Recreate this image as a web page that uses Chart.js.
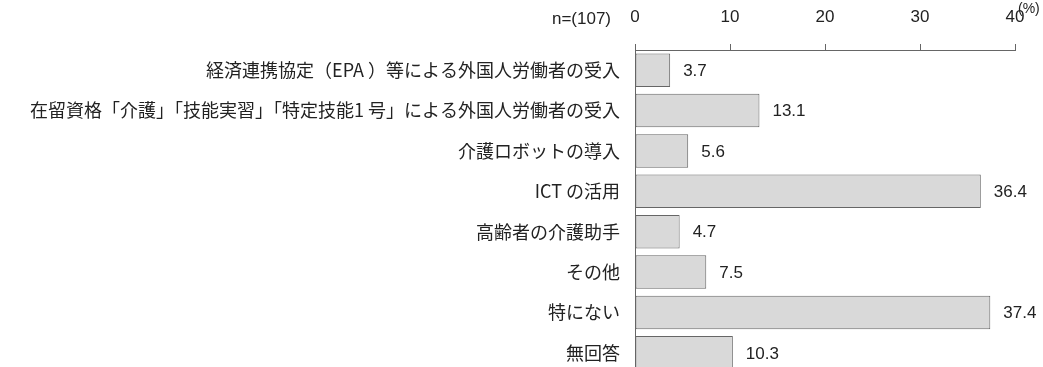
<!DOCTYPE html>
<html>
<head>
<meta charset="utf-8">
<script src="https://cdn.jsdelivr.net/npm/chart.js@4/dist/chart.umd.min.js"></script>
<style>
  html, body { margin: 0; padding: 0; background: #fff; overflow: hidden; }
  #wrap { position: relative; width: 1043px; height: 380px; }
</style>
</head>
<body>
<div id="wrap"><canvas id="chart"></canvas></div>
<script>
const categories = [
    '経済連携協定（EPA ）等による外国人労働者の受入',
    '在留資格「介護」「技能実習」「特定技能1 号」による外国人労働者の受入',
    '介護ロボットの導入',
    'ICT の活用',
    '高齢者の介護助手',
    'その他',
    '特にない',
    '無回答'
];
const percentValues = [3.7, 13.1, 5.6, 36.4, 4.7, 7.5, 37.4, 10.3];
const axisTicks = [0, 10, 20, 30, 40];
const sampleLabel = 'n=(107)';
const unitLabel = '(%)';

const numFont = "'Liberation Sans', Arial, sans-serif";
const jpFont = "'Noto Sans CJK JP', sans-serif";

// value labels, n=, and (%) unit
const extrasPlugin = {
    id: 'extras',
    afterDatasetsDraw(chart) {
        const ctx = chart.ctx;
        const meta = chart.getDatasetMeta(0);
        ctx.save();
        ctx.fillStyle = '#222';
        ctx.font = '17px ' + numFont;
        ctx.textAlign = 'left';
        ctx.textBaseline = 'middle';
        meta.data.forEach((bar, i) => {
            ctx.fillText(percentValues[i].toFixed(1), bar.x + 13, bar.y + 1);
        });
        const xs = chart.scales.x;
        ctx.textAlign = 'right';
        ctx.fillText(sampleLabel, xs.left - 24, 19);
        ctx.font = '14px ' + numFont;
        ctx.textAlign = 'left';
        ctx.fillText(unitLabel, xs.right + 3, 9);
        ctx.restore();
    }
};

new Chart(document.getElementById('chart'), {
    type: 'bar',
    data: {
        labels: categories,
        datasets: [{
            data: percentValues,
            backgroundColor: '#d9d9d9',
            borderColor: '#666',
            borderWidth: 1,
            borderSkipped: false,
            barPercentage: 0.83,
            categoryPercentage: 1.0
        }]
    },
    options: {
        indexAxis: 'y',
        responsive: true,
        maintainAspectRatio: false,
        animation: false,
        layout: { padding: { top: 0, right: 28, bottom: 7, left: 0 } },
        plugins: { legend: { display: false }, tooltip: { enabled: false } },
        scales: {
            x: {
                position: 'top',
                min: 0,
                max: 40,
                afterBuildTicks(scale) {
                    scale.ticks = axisTicks.map(v => ({ value: v }));
                },
                afterFit(scale) {
                    scale.height = 50;
                    scale.paddingLeft = 0;
                    scale.paddingRight = 0;
                },
                grid: { drawOnChartArea: false, drawTicks: true, tickLength: 6, color: '#666' },
                border: { display: true, color: '#666', width: 1 },
                ticks: {
                    color: '#222',
                    padding: 16,
                    maxRotation: 0,
                    font: { family: numFont, size: 17 }
                }
            },
            y: {
                afterFit(scale) {
                    scale.width = 635;
                    scale.paddingTop = 0;
                    scale.paddingBottom = 0;
                },
                grid: { display: false },
                border: { display: true, color: '#666', width: 1 },
                ticks: {
                    color: '#222',
                    padding: 7,
                    font: { family: jpFont, size: 18 }
                }
            }
        }
    },
    plugins: [extrasPlugin]
});
</script>
</body>
</html>
